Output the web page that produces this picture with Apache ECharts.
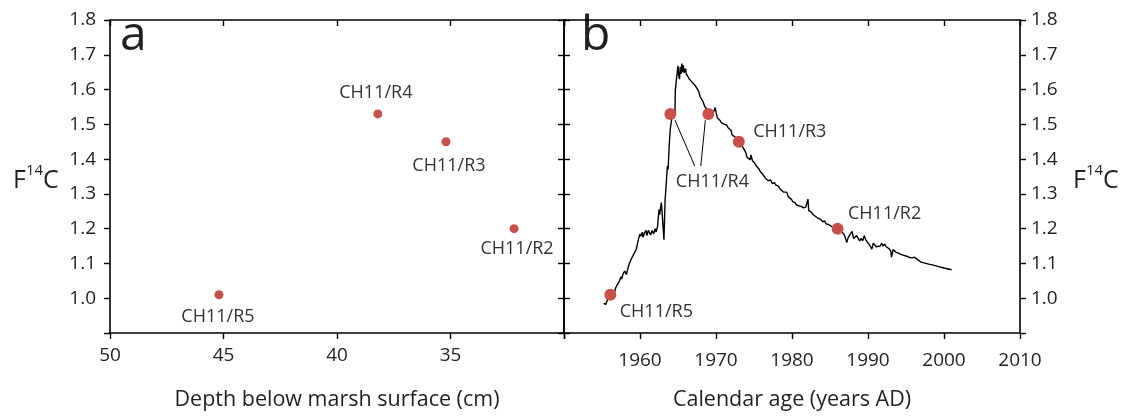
<!DOCTYPE html>
<html>
<head>
<meta charset="utf-8">
<script src="https://cdn.jsdelivr.net/npm/echarts@6/dist/echarts.min.js"></script>
<style>
html,body{margin:0;padding:0;background:#fff;}
#c{width:1125px;height:416px;}
</style>
</head>
<body>
<div id="c"></div>
<script>
// ---------- data ----------
var sampleNames = ['CH11/R5', 'CH11/R4', 'CH11/R3', 'CH11/R2'];
var sampleDepth = [45.2, 38.2, 35.2, 32.2];           // cm
var sampleF14C  = [1.01, 1.53, 1.45, 1.20];
// panel b: calendar ages of samples (R4 has two possible ages)
var bNames = ['CH11/R5', 'CH11/R4', 'CH11/R4', 'CH11/R3', 'CH11/R2'];
var bYears = [1956.1, 1964.0, 1969.0, 1973.0, 1986.0];
var bF14C  = [1.01, 1.53, 1.53, 1.45, 1.20];
// atmospheric bomb curve (traced)
var curveYears = [1955.2,1955.4,1955.5,1955.7,1956.0,1956.3,1956.5,1956.6,1956.8,1957.0,1957.1,1957.3,1957.5,1957.6,1957.8,1958.0,1958.2,1958.4,1958.6,1958.7,1958.9,1959.1,1959.3,1959.5,1959.7,1959.8,1960.0,1960.1,1960.3,1960.4,1960.6,1960.8,1960.9,1961.1,1961.3,1961.4,1961.6,1961.8,1962.0,1962.1,1962.3,1962.4,1962.5,1962.6,1962.8,1962.9,1963.0,1963.15,1963.3,1963.5,1963.6,1963.7,1963.8,1963.9,1964.0,1964.2,1964.4,1964.5,1964.6,1964.65,1964.8,1964.9,1965.0,1965.1,1965.2,1965.3,1965.4,1965.5,1965.6,1965.7,1965.8,1966.0,1966.1,1966.3,1966.5,1966.7,1966.9,1967.1,1967.3,1967.4,1967.6,1967.8,1967.9,1968.1,1968.3,1968.5,1968.7,1968.9,1969.1,1969.4,1969.6,1969.8,1969.9,1970.0,1970.2,1970.5,1970.7,1970.9,1971.1,1971.4,1971.6,1971.8,1972.0,1972.1,1972.3,1972.6,1972.9,1973.2,1973.5,1973.7,1973.9,1974.1,1974.3,1974.5,1974.6,1974.8,1975.1,1975.4,1975.7,1975.9,1976.2,1976.5,1976.7,1976.9,1977.2,1977.4,1977.7,1977.9,1978.2,1978.4,1978.6,1978.9,1979.1,1979.3,1979.5,1979.7,1979.9,1980.1,1980.4,1980.6,1980.9,1981.2,1981.5,1981.8,1982.0,1982.1,1982.2,1982.5,1982.8,1983.0,1983.3,1983.5,1983.8,1984.0,1984.3,1984.5,1984.8,1985.0,1985.3,1985.6,1985.9,1986.2,1986.5,1986.8,1987.0,1987.2,1987.4,1987.6,1987.9,1988.1,1988.3,1988.5,1988.7,1988.9,1989.1,1989.3,1989.5,1989.7,1989.9,1990.1,1990.3,1990.5,1990.7,1990.9,1991.1,1991.3,1991.6,1991.8,1992.0,1992.2,1992.4,1992.6,1992.8,1993.0,1993.1,1993.3,1993.5,1993.7,1994.0,1994.3,1994.6,1994.9,1995.2,1995.5,1995.8,1996.1,1996.4,1996.7,1997.0,1997.5,1998.0,1998.6,1999.3,2000.0,2001.0];
var curveF14C = [0.985,0.990,0.982,0.995,1.005,1.010,1.022,1.012,1.030,1.035,1.042,1.050,1.062,1.055,1.072,1.078,1.068,1.085,1.100,1.095,1.115,1.120,1.132,1.140,1.160,1.170,1.185,1.178,1.190,1.175,1.188,1.195,1.180,1.195,1.198,1.182,1.195,1.185,1.200,1.190,1.205,1.230,1.255,1.240,1.275,1.250,1.255,1.168,1.280,1.345,1.380,1.370,1.420,1.460,1.490,1.520,1.528,1.520,1.530,1.600,1.630,1.625,1.668,1.640,1.630,1.665,1.645,1.675,1.650,1.670,1.648,1.660,1.645,1.640,1.630,1.632,1.620,1.618,1.610,1.615,1.600,1.590,1.580,1.575,1.565,1.552,1.555,1.540,1.538,1.540,1.532,1.530,1.548,1.535,1.518,1.512,1.505,1.508,1.500,1.498,1.490,1.488,1.482,1.470,1.472,1.462,1.452,1.445,1.435,1.428,1.420,1.405,1.410,1.398,1.412,1.395,1.388,1.378,1.370,1.362,1.355,1.345,1.348,1.338,1.340,1.330,1.332,1.325,1.322,1.315,1.318,1.305,1.302,1.305,1.292,1.288,1.285,1.278,1.275,1.268,1.266,1.264,1.260,1.262,1.258,1.285,1.252,1.248,1.240,1.238,1.232,1.228,1.226,1.220,1.222,1.214,1.212,1.210,1.205,1.202,1.200,1.196,1.190,1.186,1.175,1.160,1.175,1.182,1.192,1.172,1.168,1.180,1.176,1.165,1.172,1.165,1.180,1.168,1.162,1.165,1.150,1.141,1.158,1.155,1.148,1.152,1.150,1.158,1.150,1.156,1.148,1.150,1.142,1.135,1.118,1.140,1.142,1.132,1.130,1.126,1.124,1.122,1.120,1.117,1.116,1.118,1.113,1.108,1.104,1.101,1.098,1.095,1.091,1.087,1.082];
// leader lines for R4 label
var leader1 = [[1964.6, 1.512], [1967.2, 1.380]];
var leader2 = [[1968.6, 1.512], [1968.0, 1.380]];
// axis ticks
var depthTicks = {min: 30, max: 50, interval: 5};
var yearTicks  = {min: 1950, max: 2010, interval: 10};
var fTicks     = {min: 0.9, max: 1.8, interval: 0.1};

// ---------- styling ----------
var FONT = 'Open Sans';
var TXT = '#231f20';
var DOT = '#c8504b';
var TICKFS = 19;
var chart = echarts.init(document.getElementById('c'), null, {renderer: 'canvas'});

function axLine() { return {show: true, onZero: false, lineStyle: {color: '#000', width: 1.6}}; }
function ticks(inside) { return {show: true, inside: inside, length: 6, lineStyle: {color: '#000', width: 1.4}}; }

var fLabel = function (v) { return Math.abs(v - 0.9) < 1e-6 ? '' : v.toFixed(1); };

// label offsets (pixels) relative to each sample point
var aOffsets = [[-1, 22], [-2, -21], [3, 24], [3, 20]];
var bOffsets = [[46, 17], [42, 68], null, [51, -10], [47, -15]];

var option = {
  animation: false,
  backgroundColor: '#fff',
  textStyle: {fontFamily: FONT},
  grid: [
    {left: 110, right: 561, top: 20, bottom: 72, containLabel: false},
    {left: 564, right: 105, top: 20, bottom: 72, containLabel: false}
  ],
  xAxis: [
    {gridIndex: 0, type: 'value', position: 'bottom', inverse: true,
     min: depthTicks.min, max: depthTicks.max, interval: depthTicks.interval,
     axisLine: axLine(), axisTick: ticks(false), splitLine: {show: false},
     axisLabel: {margin: 13, fontSize: TICKFS, color: TXT, fontFamily: FONT,
       formatter: function (v) { return v === 30 ? '' : String(v); }},
     name: 'Depth below marsh surface (cm)', nameLocation: 'middle', nameGap: 56,
     nameTextStyle: {fontSize: 21.5, color: TXT, fontFamily: FONT}},
    {gridIndex: 0, type: 'value', position: 'top', inverse: true,
     min: depthTicks.min, max: depthTicks.max, interval: depthTicks.interval,
     axisLine: axLine(), axisTick: ticks(true), axisLabel: {show: false}, splitLine: {show: false}},
    {gridIndex: 1, type: 'value', position: 'bottom',
     min: yearTicks.min, max: yearTicks.max, interval: yearTicks.interval,
     axisLine: axLine(), axisTick: ticks(false), splitLine: {show: false},
     axisLabel: {margin: 18, fontSize: TICKFS, color: TXT, fontFamily: FONT,
       formatter: function (v) { return v === 1950 ? '' : String(v); }},
     name: 'Calendar age (years AD)', nameLocation: 'middle', nameGap: 56,
     nameTextStyle: {fontSize: 21.5, color: TXT, fontFamily: FONT}},
    {gridIndex: 1, type: 'value', position: 'top',
     min: yearTicks.min, max: yearTicks.max, interval: yearTicks.interval,
     axisLine: axLine(), axisTick: ticks(true), axisLabel: {show: false}, splitLine: {show: false}}
  ],
  yAxis: [
    {gridIndex: 0, type: 'value', position: 'left',
     min: fTicks.min, max: fTicks.max, interval: fTicks.interval,
     axisLine: axLine(), axisTick: ticks(false), splitLine: {show: false},
     axisLabel: {margin: 14, fontSize: TICKFS, color: TXT, fontFamily: FONT, formatter: fLabel}},
    {gridIndex: 0, type: 'value', position: 'right',
     min: fTicks.min, max: fTicks.max, interval: fTicks.interval,
     axisLine: axLine(), axisTick: ticks(true), axisLabel: {show: false}, splitLine: {show: false}},
    {gridIndex: 1, type: 'value', position: 'left',
     min: fTicks.min, max: fTicks.max, interval: fTicks.interval,
     axisLine: axLine(), axisTick: ticks(true), axisLabel: {show: false}, splitLine: {show: false}},
    {gridIndex: 1, type: 'value', position: 'right',
     min: fTicks.min, max: fTicks.max, interval: fTicks.interval,
     axisLine: axLine(), axisTick: ticks(false), splitLine: {show: false},
     axisLabel: {margin: 11, fontSize: TICKFS, color: TXT, fontFamily: FONT, formatter: fLabel}}
  ],
  series: [
    {type: 'scatter', xAxisIndex: 0, yAxisIndex: 0, symbolSize: 9,
     itemStyle: {color: DOT, opacity: 1},
     data: sampleDepth.map(function (d, i) {
       return {value: [d, sampleF14C[i]], name: sampleNames[i],
         label: {show: true, position: 'inside', offset: aOffsets[i], formatter: '{b}',
           fontSize: 18, color: '#333', fontFamily: FONT}};
     })},
    {type: 'line', xAxisIndex: 2, yAxisIndex: 2, showSymbol: false, symbol: 'none',
     lineStyle: {color: '#000', width: 1.4}, z: 2,
     data: curveYears.map(function (y, i) { return [y, curveF14C[i]]; })},
    {type: 'line', xAxisIndex: 2, yAxisIndex: 2, symbol: 'none', lineStyle: {color: '#000', width: 1}, z: 2, data: leader1},
    {type: 'line', xAxisIndex: 2, yAxisIndex: 2, symbol: 'none', lineStyle: {color: '#000', width: 1}, z: 2, data: leader2},
    {type: 'scatter', xAxisIndex: 2, yAxisIndex: 2, symbolSize: 12, z: 5,
     itemStyle: {color: DOT, opacity: 1},
     data: bYears.map(function (y, i) {
       var o = bOffsets[i];
       return {value: [y, bF14C[i]], name: bNames[i],
         label: {show: !!o, position: 'inside', offset: o || [0, 0], formatter: '{b}',
           fontSize: 18, color: '#333', fontFamily: FONT}};
     })}
  ],
  graphic: [
    {type: 'text', left: 120, top: 12, style: {text: 'a', fontSize: 48, fontFamily: FONT, fill: TXT}},
    {type: 'text', left: 581, top: 12, style: {text: 'b', fontSize: 48, fontFamily: FONT, fill: TXT}},
    {type: 'text', left: 13, top: 163, style: {
      text: '{m|F}{s|14}{m|C}', fill: TXT,
      rich: {m: {fontSize: 25, fontFamily: FONT, fill: TXT, verticalAlign: 'bottom', lineHeight: 30},
             s: {fontSize: 15, fontFamily: FONT, fill: TXT, verticalAlign: 'top', lineHeight: 30}}}},
    {type: 'text', left: 1073, top: 163, style: {
      text: '{m|F}{s|14}{m|C}', fill: TXT,
      rich: {m: {fontSize: 25, fontFamily: FONT, fill: TXT, verticalAlign: 'bottom', lineHeight: 30},
             s: {fontSize: 15, fontFamily: FONT, fill: TXT, verticalAlign: 'top', lineHeight: 30}}}}
  ]
};
chart.setOption(option);
</script>
</body>
</html>
